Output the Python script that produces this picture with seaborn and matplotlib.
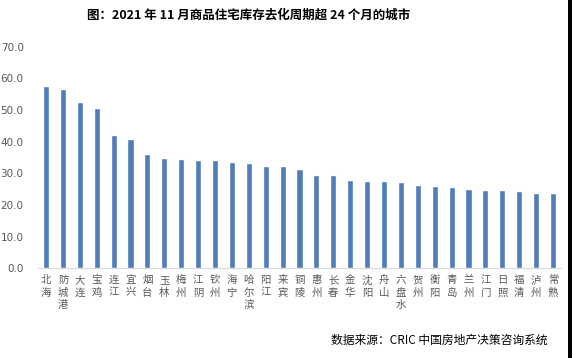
import matplotlib
matplotlib.use("Agg")
import matplotlib.pyplot as plt
import seaborn as sns
import pandas as pd
from matplotlib.patches import Rectangle

cities = ["北海", "防城港", "大连", "宝鸡", "连江", "宜兴", "烟台", "玉林", "梅州", "江阴",
          "钦州", "海宁", "哈尔滨", "阳江", "来宾", "铜陵", "惠州", "长春", "金华", "沈阳",
          "舟山", "六盘水", "贺州", "衡阳", "青岛", "兰州", "江门", "日照", "福清", "泸州", "常熟"]
months = [57.6, 56.6, 52.5, 50.6, 42.1, 40.8, 36.1, 34.8, 34.5, 34.2,
          34.2, 33.6, 33.2, 32.3, 32.3, 31.4, 29.5, 29.5, 27.9, 27.6,
          27.6, 27.3, 26.3, 26.0, 25.7, 25.0, 24.7, 24.7, 24.4, 23.8, 23.8]
yticks = [0, 10, 20, 30, 40, 50, 60, 70]

title = "图：2021 年 11 月商品住宅库存去化周期超 24 个月的城市"
source = "数据来源：CRIC 中国房地产决策咨询系统"

sns.set_style("white")
plt.rcParams["font.family"] = ["Noto Sans CJK SC", "DejaVu Sans"]

df = pd.DataFrame({"city": cities, "months": months})

fig = plt.figure(figsize=(5.72, 3.58), dpi=100)
ax = fig.add_axes([0.0656, 0.2506, 0.916, 0.619])

sns.barplot(data=df, x="city", y="months", color="#4F7DB8", width=0.36,
            saturation=1, ax=ax)

ax.set_xlim(-0.5, len(cities) - 0.5)
ax.set_ylim(0, 70)
ax.set_yticks(yticks)
ax.set_yticklabels([f"{v:.1f}" for v in yticks], fontsize=7.5, color="#595959",
                   family=["DejaVu Sans"])
ax.set_xticks(range(len(cities)))
ax.set_xticklabels(["\n".join(c) for c in cities], fontsize=7.5, color="#595959",
                   va="top", linespacing=1.3)
ax.tick_params(axis="both", length=0)
ax.tick_params(axis="x", pad=5)
ax.tick_params(axis="y", pad=10)
ax.set_xlabel("")
ax.set_ylabel("")
for s in ["top", "right", "left"]:
    ax.spines[s].set_visible(False)
ax.spines["bottom"].set_color("#D9D9D9")
ax.spines["bottom"].set_linewidth(0.8)

fig.text(0.434, 0.958, title, ha="center", va="center", fontsize=9,
         fontweight="bold", color="black")
fig.text(0.957, 0.05, source, ha="right", va="center", fontsize=8.5, color="black")

fig.patches.append(Rectangle((0.993, 0), 0.007, 1, transform=fig.transFigure,
                             facecolor="black", edgecolor="none"))

fig.savefig("out.png", dpi=100)
